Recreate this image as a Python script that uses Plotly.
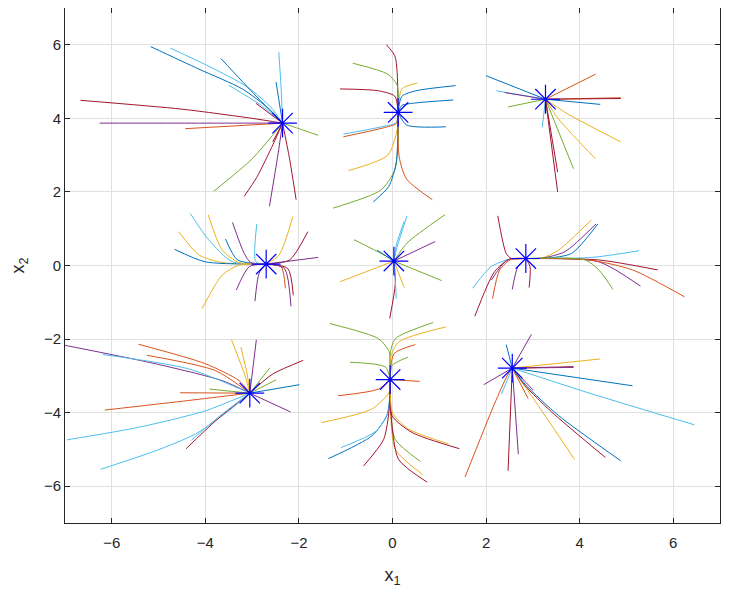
import plotly.graph_objects as go

# MATLAB default colour order
colors = ["#0072BD", "#D95319", "#EDB120", "#7E2F8E", "#77AC30", "#4DBEEE", "#A2142F"]

# equilibrium points (blue stars)
eq_x = [-2.35, 0.12, 3.27, -2.70, 0.03, 2.85, -3.05, -0.05, 2.56]
eq_y = [3.87, 4.16, 4.52, 0.04, 0.12, 0.19, -3.47, -3.10, -2.79]

# trajectories, one list per equilibrium; each ends at its equilibrium
traj_e1 = [
    [(-5.17, 5.95), (-4.14, 5.34), (-3.21, 4.80), (-2.63, 4.25)],
    [(-4.75, 5.91), (-3.9, 5.4), (-3.1, 4.85), (-2.6, 4.3)],
    [(-3.67, 5.63), (-2.92, 4.61)],
    [(-3.5, 4.9), (-2.8, 4.35)],
    [(-2.43, 5.80), (-2.38, 4.8)],
    [(-2.49, 4.99)],
    [(-2.92, 4.41)],
    [(-6.67, 4.49), (-4.5, 4.25), (-3.0, 4.0)],
    [(-6.26, 3.87), (-4.0, 3.87)],
    [(-4.43, 3.72), (-3.3, 3.8)],
    [(-1.59, 3.54), (-2.0, 3.72)],
    [(-3.82, 2.02), (-3.0, 2.9)],
    [(-3.17, 1.88), (-2.9, 2.4), (-2.55, 3.3)],
    [(-2.63, 1.61), (-2.45, 3.0)],
    [(-2.06, 1.79), (-2.2, 2.9)],
    [(-2.56, 3.36)],
]
col_e1 = [0, 5, 0, 5, 5, 0, 6, 6, 3, 1, 4, 4, 6, 3, 6, 6]

traj_e2 = [
    [(-0.13, 6.0), (0.05, 5.7), (0.10, 5.25)],
    [(-0.85, 5.50), (-0.1, 5.2), (0.10, 4.9)],
    [(-1.12, 4.80), (-0.3, 4.75), (0.05, 4.6)],
    [(0.53, 4.96), (0.2, 4.8)],
    [(1.35, 4.89), (0.5, 4.75), (0.2, 4.6)],
    [(1.30, 4.50), (0.5, 4.42), (0.2, 4.35)],
    [(1.14, 3.77), (0.3, 3.82)],
    [(-1.05, 3.57), (-0.2, 3.78), (0.08, 3.88)],
    [(-1.05, 3.50), (-0.2, 3.74), (0.08, 3.86)],
    [(-0.94, 2.58), (-0.1, 3.0), (0.10, 3.7)],
    [(-1.27, 1.56), (-0.25, 2.05), (0.05, 2.6), (0.12, 3.4)],
    [(-0.41, 1.73), (-0.08, 2.15), (0.08, 2.8)],
    [(0.85, 1.79), (0.3, 2.35), (0.14, 2.97)],
]
col_e2 = [6, 4, 6, 2, 0, 0, 0, 5, 1, 2, 4, 0, 1]

traj_e3 = [
    [(2.0, 5.16)],
    [(2.22, 4.75)],
    [(2.40, 4.70)],
    [(2.47, 4.31)],
    [(4.34, 5.20)],
    [(4.88, 4.56)],
    [(4.88, 4.54)],
    [(4.44, 4.38)],
    [(3.20, 3.75)],
    [(4.88, 3.36), (3.76, 4.11)],
    [(4.34, 2.90), (3.55, 3.98)],
    [(3.87, 2.63)],
    [(3.53, 2.54)],
    [(3.53, 2.0)],
]
col_e3 = [0, 5, 3, 4, 1, 1, 6, 0, 5, 2, 2, 4, 6, 6]

traj_e4 = [
    [(-4.57, 0.92), (-4.14, 0.29), (-3.64, 0.08)],
    [(-4.66, 0.44), (-4.0, 0.10)],
    [(-4.32, 1.41), (-3.93, 0.70), (-3.42, 0.10)],
    [(-3.94, 1.38), (-3.64, 0.42), (-3.28, 0.08)],
    [(-3.57, 0.72), (-3.31, 0.15)],
    [(-3.42, 1.17), (-3.17, 0.33), (-3.03, 0.08)],
    [(-2.90, 1.13), (-2.92, 0.10)],
    [(-4.07, -1.17), (-3.64, -0.26), (-3.28, 0.01)],
    [(-3.34, -0.67), (-3.06, -0.03)],
    [(-2.94, -0.97), (-2.85, -0.21)],
    [(-2.13, 1.33), (-2.42, 0.29)],
    [(-1.81, 0.92), (-2.20, 0.15)],
    [(-1.59, 0.22)],
    [(-2.29, -0.62), (-2.38, -0.03)],
    [(-2.12, -0.81), (-2.24, -0.08)],
    [(-2.17, -1.11), (-2.31, -0.08)],
]
col_e4 = [2, 0, 5, 2, 0, 3, 5, 2, 3, 3, 2, 6, 3, 1, 6, 3]

traj_e5 = [
    [(0.31, 1.35), (0.10, 0.51)],
    [(0.25, 1.20), (0.08, 0.55)],
    [(1.12, 1.38), (0.31, 0.61)],
    [(0.91, 0.65)],
    [(-0.82, 0.70), (-0.19, 0.29)],
    [(-0.33, 0.42)],
    [(-1.12, -0.44)],
    [(1.05, -0.41)],
    [(0.25, -0.60)],
    [(-0.06, -1.44), (0.06, -0.49)],
    [(0.08, -0.9), (0.06, -0.4)],
]
col_e5 = [5, 5, 4, 3, 4, 0, 2, 4, 2, 6, 5]

traj_e6 = [
    [(2.25, 1.35), (2.43, 0.33), (2.54, 0.19)],
    [(1.71, -0.62), (2.11, -0.03), (2.50, 0.17)],
    [(1.76, -1.38), (2.18, -0.17), (2.50, 0.17)],
    [(2.11, -0.40), (2.45, 0.15)],
    [(2.14, -0.90), (2.29, -0.12), (2.54, 0.17)],
    [(2.56, -0.65), (2.68, -0.03)],
    [(2.92, -0.60), (2.94, -0.03)],
    [(4.25, 1.24), (3.55, 0.42), (3.19, 0.20)],
    [(4.35, 1.13), (3.69, 0.38), (3.2, 0.2)],
    [(4.39, 1.13), (3.83, 0.33), (3.3, 0.2)],
    [(5.27, 0.40), (4.26, 0.22)],
    [(5.67, -0.12), (4.41, 0.15)],
    [(5.30, -0.56), (4.41, 0.10)],
    [(6.24, -0.85), (5.13, -0.12), (4.2, 0.15)],
    [(4.71, -0.65), (4.41, -0.12), (4.12, 0.15)],
]
col_e6 = [6, 5, 6, 3, 1, 3, 6, 2, 3, 0, 5, 6, 3, 1, 4]

traj_e7 = [
    [(-7.12, -2.14), (-5.07, -2.67), (-3.64, -3.13)],
    [(-6.19, -2.42), (-4.36, -2.81)],
    [(-5.43, -2.14), (-4.0, -2.67), (-3.28, -3.13)],
    [(-5.25, -2.44), (-3.78, -2.86)],
    [(-3.44, -2.02), (-3.14, -3.04)],
    [(-3.24, -2.22), (-3.1, -3.0)],
    [(-2.91, -2.02)],
    [(-2.62, -2.78)],
    [(-2.49, -3.11)],
    [(-1.91, -2.58), (-2.56, -2.95)],
    [(-1.99, -3.24)],
    [(-2.18, -3.98)],
    [(-4.54, -3.46)],
    [(-3.91, -3.36)],
    [(-6.15, -3.93), (-4.36, -3.67)],
    [(-6.96, -4.74), (-5.43, -4.40), (-4.0, -3.95)],
    [(-6.24, -5.54), (-5.07, -5.04), (-4.21, -4.58), (-3.50, -3.95)],
    [(-4.41, -4.98), (-3.78, -4.22)],
    [(-4.3, -4.75), (-3.7, -4.1)],
]
col_e7 = [3, 5, 1, 1, 2, 2, 3, 4, 4, 6, 0, 3, 1, 4, 1, 5, 5, 6, 5]

traj_e8 = [
    [(-1.34, -1.58), (-0.30, -1.99), (-0.07, -2.35)],
    [(0.87, -1.55), (0.06, -1.99), (-0.05, -2.4)],
    [(1.14, -1.67), (0.13, -2.08), (-0.04, -2.5)],
    [(0.49, -2.15), (0.03, -2.40)],
    [(0.33, -2.49), (-0.01, -2.72)],
    [(-0.91, -2.63), (-0.15, -2.76)],
    [(0.58, -3.15)],
    [(-1.16, -3.54), (-0.30, -3.36)],
    [(-1.52, -4.27), (-0.44, -3.90), (-0.07, -3.44)],
    [(-1.37, -5.25), (-0.44, -4.63), (-0.12, -4.08), (-0.06, -3.6)],
    [(-1.1, -4.95), (-0.35, -4.5), (-0.1, -4.0)],
    [(-0.62, -5.45), (-0.19, -4.73), (-0.07, -3.9)],
    [(0.60, -5.33), (0.06, -4.73), (-0.04, -3.9)],
    [(0.64, -5.68), (0.06, -5.0), (-0.04, -4.0)],
    [(0.74, -5.89), (0.13, -5.27), (-0.03, -4.1)],
    [(1.43, -4.98), (0.42, -4.54), (-0.01, -4.08)],
    [(1.2, -4.85), (0.35, -4.45), (0.0, -4.0)],
]
col_e8 = [4, 4, 2, 1, 4, 4, 1, 1, 2, 0, 5, 6, 4, 2, 6, 6, 2]

traj_e9 = [
    [(2.97, -1.87)],
    [(2.43, -2.15)],
    [(4.44, -2.54)],
    [(3.87, -2.75)],
    [(3.87, -2.77)],
    [(5.13, -3.27)],
    [(6.45, -4.33), (4.26, -3.49)],
    [(1.95, -3.24)],
    [(1.55, -5.75), (2.18, -3.76), (2.45, -3.0)],
    [(2.47, -5.58)],
    [(2.69, -5.13)],
    [(2.33, -3.49)],
    [(3.89, -5.27), (3.04, -3.67)],
    [(4.55, -5.22), (3.40, -3.98), (2.83, -3.26)],
    [(4.88, -5.31), (3.55, -4.08), (2.85, -3.25)],
    [(3.01, -3.39)],
    [(2.90, -3.62)],
]
col_e9 = [3, 0, 2, 6, 3, 0, 5, 3, 1, 6, 3, 5, 2, 6, 0, 3, 1]

clusters = [
    (traj_e1, col_e1), (traj_e2, col_e2), (traj_e3, col_e3),
    (traj_e4, col_e4), (traj_e5, col_e5), (traj_e6, col_e6),
    (traj_e7, col_e7), (traj_e8, col_e8), (traj_e9, col_e9),
]

fig = go.Figure()

for k, (trajs, cols) in enumerate(clusters):
    for pts, ci in zip(trajs, cols):
        xs = [p[0] for p in pts] + [eq_x[k]]
        ys = [p[1] for p in pts] + [eq_y[k]]
        fig.add_trace(go.Scatter(
            x=xs, y=ys, mode="lines",
            line=dict(color=colors[ci], width=1, shape="spline", smoothing=0.7),
            hoverinfo="skip", showlegend=False,
        ))

fig.add_trace(go.Scatter(
    x=eq_x, y=eq_y, mode="markers",
    marker=dict(symbol="asterisk-open", size=24, color="#0000FF",
                line=dict(color="#0000FF", width=1.2)),
    showlegend=False,
))

font_name = "Liberation Sans, Arial"
axis_common = dict(
    range=[-7, 7], dtick=2, showgrid=True, gridcolor="#E0E0E0", gridwidth=1,
    zeroline=False, showline=True, linecolor="#262626", linewidth=1,
    mirror="ticks", ticks="inside", ticklen=5, tickcolor="#262626",
    tickfont=dict(family=font_name, size=15, color="#262626"),
    automargin=False,
)

fig.update_xaxes(**axis_common, ticklabelstandoff=6,
                 title=dict(text="x<sub>1</sub>", font=dict(family=font_name, size=18, color="#262626"), standoff=18))
fig.update_yaxes(**axis_common,
                 title=dict(text="x<sub>2</sub>", font=dict(family=font_name, size=18, color="#262626"), standoff=40))

# the page body adds an 8px offset, so the figure is a bit smaller than the window
fig.update_layout(
    width=723, height=594,
    margin=dict(l=57, r=11, t=0, b=79),
    plot_bgcolor="white", paper_bgcolor="white",
)

fig.write_html("out.html")
